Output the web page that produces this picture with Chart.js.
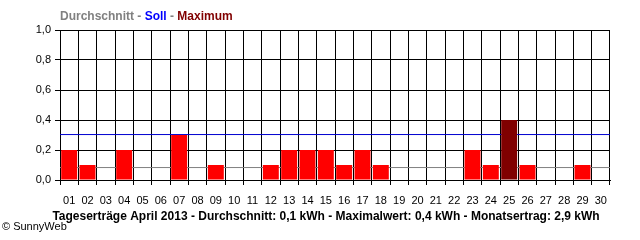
<!DOCTYPE html>
<html>
<head>
<meta charset="utf-8">
<script src="https://cdn.jsdelivr.net/npm/chart.js@4/dist/chart.umd.min.js"></script>
<style>
  html, body { margin: 0; padding: 0; background: #fff; }
  #chart { display: block; }
</style>
</head>
<body>
<canvas id="chart" width="640" height="240"></canvas>
<script>
// daily yield, April 2013 (kWh)
const days = ["01","02","03","04","05","06","07","08","09","10","11","12","13","14","15",
              "16","17","18","19","20","21","22","23","24","25","26","27","28","29","30"];
const yields = [0.2, 0.1, 0, 0.2, 0, 0, 0.3, 0, 0.1, 0, 0, 0.1, 0.2, 0.2, 0.2,
                0.1, 0.2, 0.1, 0, 0, 0, 0, 0.2, 0.1, 0.4, 0.1, 0, 0, 0.1, 0];
const average = 0.083;   // Durchschnitt line (grey)
const target = 0.303;    // Soll line (blue)
const yTicks = [0, 0.2, 0.4, 0.6, 0.8, 1.0];

const headerParts = [
  ["Durchschnitt", "#808080"], [" - ", "#808080"],
  ["Soll", "#0000ff"], [" - ", "#808080"],
  ["Maximum", "#800000"]
];
const caption = "Tageserträge April 2013 - Durchschnitt: 0,1 kWh - Maximalwert: 0,4 kWh - Monatsertrag: 2,9 kWh";
const copyright = "© SunnyWeb";

const maxVal = Math.max(...yields);
const barColors = yields.map(v => v === maxVal ? "#800000" : "#ff0000");
const FONT = "'Liberation Sans', Arial, sans-serif";

// header, caption and copyright line
const textPlugin = {
  id: "texts",
  afterDraw(chart) {
    const ctx = chart.ctx;
    ctx.save();
    ctx.textBaseline = "alphabetic";
    ctx.font = "bold 12px " + FONT;
    let x = 60;
    headerParts.forEach(([t, c]) => {
      ctx.fillStyle = c;
      ctx.textAlign = "left";
      ctx.fillText(t, x, 20);
      x += ctx.measureText(t).width;
    });
    ctx.fillStyle = "#000";
    ctx.textAlign = "center";
    ctx.fillText(caption, 326, 220);
    ctx.font = "11px " + FONT;
    ctx.textAlign = "left";
    ctx.fillText(copyright, 2, 230);
    ctx.restore();
  }
};

new Chart(document.getElementById("chart"), {
  type: "bar",
  data: {
    labels: days,
    datasets: [
      {
        type: "bar",
        data: yields,
        backgroundColor: barColors,
        borderWidth: 0,
        grouped: false,
        barPercentage: 0.87,
        categoryPercentage: 1,
        order: 0
      },
      {
        type: "line",
        xAxisID: "xLine",
        data: [{ x: 0, y: target }, { x: 1, y: target }],
        borderColor: "#0000d0",
        borderWidth: 1,
        pointRadius: 0,
        order: 1
      },
      {
        type: "line",
        xAxisID: "xLine",
        data: [{ x: 0, y: average }, { x: 1, y: average }],
        borderColor: "#808080",
        borderWidth: 1,
        pointRadius: 0,
        order: 1
      }
    ]
  },
  options: {
    responsive: false,
    animation: false,
    devicePixelRatio: 1,
    layout: { padding: { top: 30, right: 30, bottom: 0, left: 0 } },
    plugins: { legend: { display: false }, tooltip: { enabled: false } },
    scales: {
      x: {
        offset: true,
        grid: { offset: true, color: "#000", lineWidth: 1, tickLength: 5, drawTicks: true },
        border: { color: "#000" },
        ticks: { color: "#000", font: { family: FONT, size: 11 }, padding: 9, maxRotation: 0, autoSkip: false },
        afterFit(scale) { scale.height = 60; }
      },
      xLine: {
        type: "linear",
        offset: false,
        min: 0,
        max: 1,
        display: false
      },
      y: {
        min: 0,
        max: 1,
        afterBuildTicks(scale) { scale.ticks = yTicks.map(v => ({ value: v })); },
        grid: { color: "#000", lineWidth: 1, tickLength: 5 },
        border: { color: "#000" },
        ticks: {
          color: "#000",
          font: { family: FONT, size: 11 },
          padding: 4,
          callback: v => v.toFixed(1).replace(".", ",")
        },
        afterFit(scale) { scale.width = 60; }
      }
    }
  },
  plugins: [textPlugin]
});
</script>
</body>
</html>
